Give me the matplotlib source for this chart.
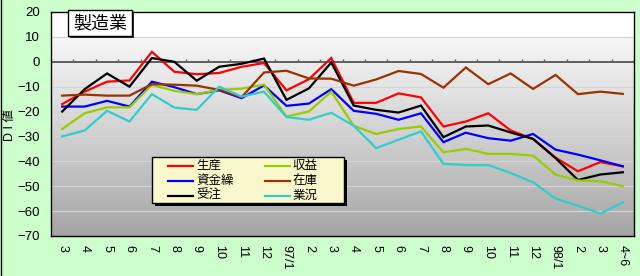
import numpy as np
import matplotlib
matplotlib.use("Agg")
import matplotlib.pyplot as plt
from matplotlib.colors import LinearSegmentedColormap
from matplotlib.patches import Rectangle
from matplotlib.lines import Line2D

plt.rcParams["font.family"] = ["Liberation Sans", "Noto Sans CJK JP"]

# ── Data (DI values) ─────────────────────────────────────────────────────────
months = ["3", "4", "5", "6", "7", "8", "9", "10", "11", "12", "97/1", "2",
          "3", "4", "5", "6", "7", "8", "9", "10", "11", "12", "98/1", "2",
          "3", "4~6"]

seisan   = [-17, -12, -8, -7.5, 4, -4, -5, -4.5, -2, -0.5, -11.5, -7, 1.5,
            -16.5, -16.5, -12.7, -14.3, -26, -24, -20.7, -27.6, -31, -38.5,
            -44, -40.3, -42]
shikin   = [-18, -18, -15.7, -18, -8, -10.2, -13, -11.5, -14.6, -9.5, -17.7,
            -16.8, -11, -19.7, -20.9, -23.3, -20.7, -32.3, -28.5, -30.7,
            -31.7, -29, -35.3, -37.3, -39.6, -42]
juchu    = [-20, -11, -4.7, -10, 1.5, 0, -7.6, -2, -0.8, 1.3, -15.3, -10.7,
            -0.3, -17.6, -19.3, -20.4, -17.6, -30.3, -26, -25.6, -28.4, -31,
            -38.7, -47.5, -45.3, -44.4]
shueki   = [-27, -20.7, -18.3, -18.3, -9.3, -11.7, -13, -11.3, -10.8, -9.2,
            -22, -20, -12, -25.7, -29, -27, -26, -36.4, -35, -37, -37, -37.7,
            -45.3, -47.7, -48, -50]
zaiko    = [-13.6, -13.2, -13.6, -13.6, -9, -9.2, -9.6, -11.3, -14.2, -4.3,
            -3.6, -6.7, -6.8, -9.6, -7.1, -3.7, -4.9, -10.4, -2.3, -9, -4.7,
            -10.9, -5.3, -13, -12, -12.9]
gyokyo   = [-30, -27.6, -19.7, -24, -13, -18.4, -19.3, -10, -14, -12, -22.2,
            -23.3, -20.5, -25.7, -34.7, -31.3, -28, -41, -41.5, -41.5, -44.7,
            -48.4, -55, -57.8, -61, -56.5]

series = [
    ("生産",   seisan, "#FF0000"),
    ("資金繰", shikin, "#0000FF"),
    ("受注",   juchu,  "#000000"),
    ("収益",   shueki, "#99CC00"),
    ("在庫",   zaiko,  "#993300"),
    ("業況",   gyokyo, "#33CCCC"),
]

# ── Figure ───────────────────────────────────────────────────────────────────
W, H = 640, 276
BG = "#CCFFCC"


def fx(px):
    return px / W


def fy(py):
    return 1 - py / H


fig = plt.figure(figsize=(6.4, 2.76), dpi=100, facecolor=BG)
ax = fig.add_axes([fx(51), fy(236), fx(583), 224 / H])

x = np.arange(len(months))
ymin, ymax = -70, 20

# gradient plot area
cmap = LinearSegmentedColormap.from_list("bg", [
    (0.0, "#A4A4A4"), (0.333, "#C6C6C6"), (0.667, "#E4E4E4"),
    (0.778, "#EDEDED"), (0.88, "#F6F6F6"), (0.89, "#FFFFFF"), (1.0, "#FFFFFF")])
grad = np.linspace(0, 1, 256).reshape(-1, 1)
ax.imshow(grad, cmap=cmap, origin="lower", aspect="auto",
          extent=[-0.5, len(months) - 0.5, ymin, ymax], zorder=0)

for yv in range(-60, 20, 10):
    if yv != 0:
        ax.axhline(yv, color="#D4D4D4", lw=0.9, zorder=1)

# category axis at 0 with tick marks
ax.axhline(0, color="#606060", lw=1.4, zorder=2)
ax.vlines(np.arange(len(months) + 1) - 0.5, 0, 1.3, color="#606060",
          lw=1.0, zorder=2)

for label, vals, color in series:
    ax.plot(x, vals, color=color, lw=1.6, zorder=3, solid_joinstyle="miter")

ax.set_xlim(-0.5, len(months) - 0.5)
ax.set_ylim(ymin, ymax)
ax.set_yticks(range(ymin, ymax + 1, 10))
ax.set_xticks(x)
ax.set_xticklabels(months, rotation=270, fontsize=9)
ax.tick_params(axis="x", length=0, pad=6.5)
ax.tick_params(axis="y", length=0, pad=8, labelsize=9.5)
for sp in ax.spines.values():
    sp.set_color("black")
    sp.set_linewidth(1.0)

fig.text(fx(10), fy(125), "D I 値", rotation=90, ha="center", va="center",
         fontsize=9)

# ── Title box ────────────────────────────────────────────────────────────────
fig.add_artist(Rectangle((fx(70), fy(38)), fx(64), 26 / H,
                         transform=fig.transFigure, fc="#333333", ec="none",
                         zorder=5))
fig.add_artist(Rectangle((fx(68), fy(36)), fx(64), 26 / H,
                         transform=fig.transFigure, fc="white", ec="black",
                         lw=1.0, zorder=6))
fig.text(fx(100), fy(23), "製造業", ha="center", va="center", fontsize=13,
         family=["Noto Sans CJK JP"], zorder=7)

# ── Legend box ───────────────────────────────────────────────────────────────
fig.add_artist(Rectangle((fx(155), fy(206)), fx(192), 46 / H,
                         transform=fig.transFigure, fc="black", ec="none",
                         zorder=5))
fig.add_artist(Rectangle((fx(152), fy(203)), fx(192), 46 / H,
                         transform=fig.transFigure, fc="#F8F8CC", ec="black",
                         lw=1.0, zorder=6))
col_x = [168, 265]
row_y = [165.7, 180.7, 195.7]
for i, (label, vals, color) in enumerate(series):
    c, r = divmod(i, 3)
    x0 = col_x[c]
    y0 = row_y[r]
    fig.add_artist(Line2D([fx(x0), fx(x0 + 25)], [fy(y0), fy(y0)],
                          transform=fig.transFigure, color=color, lw=1.6,
                          zorder=7))
    fig.text(fx(x0 + 28), fy(y0), label, ha="left", va="center",
             fontsize=9, family=["Noto Sans CJK JP"], zorder=7)

fig.add_artist(Line2D([0.001, 0.001], [0, 1], transform=fig.transFigure,
                      color="black", lw=1.0))

fig.savefig("out.png", dpi=100, facecolor=BG)
